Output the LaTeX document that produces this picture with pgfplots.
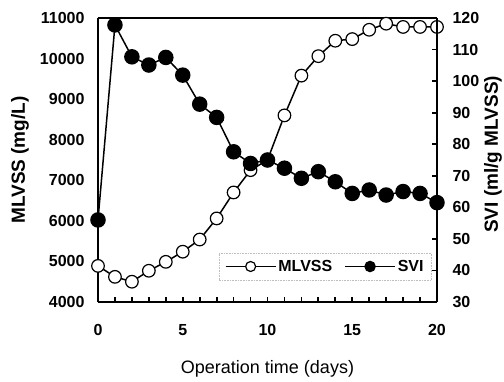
\documentclass[border=0pt]{standalone}
\usepackage{fontspec}
\setmainfont{Liberation Sans}
\usepackage{pgfplots}
\pgfplotsset{compat=1.18}
\pgfplotsset{
 common/.style={
  scale only axis, width=339pt, height=284pt, at={(98pt,79pt)}, anchor=south west,
  xmin=0, xmax=20, enlargelimits=false, clip=false,
  scaled ticks=false,
  tick align=inside,
  major tick length=5.5pt, minor tick length=5.5pt,
  tick style={black, line width=1.8pt},
  major tick style={black, line width=1.8pt},
  minor tick style={black, line width=1.8pt},
  ticklabel style={font=\bfseries\fontsize{16}{16}\selectfont},
  label style={font=\bfseries\fontsize{19}{19}\selectfont},
  axis line style={line width=2.2pt},
 },
 mlvss/.style={black, solid, line width=1.5pt, mark=*, mark size=6.3pt, mark options={fill=white, line width=1.2pt, solid}},
 svi/.style={black, solid, line width=1.5pt, mark=*, mark size=7pt, mark options={fill=black, solid}},
}
\begin{document}
\begin{tikzpicture}
\useasboundingbox (0,0) rectangle (504pt,381pt);
\begin{axis}[common,
 separate axis lines,
 ymin=4000, ymax=11000,
 xtick={0,5,10,15,20}, xticklabels={0,5,10,15,20},
 minor xtick={1,...,19},
 xtick pos=left,
 ytick={4000,5000,6000,7000,8000,9000,10000,11000},
 yticklabels={4000,5000,6000,7000,8000,9000,10000,11000},
 ytick pos=left, ytick style={draw=none},
 yticklabel style={xshift=-10pt},
 xticklabel style={yshift=-19pt},
 xlabel={Operation time (days)},
 xlabel style={font=\fontsize{18}{18}\selectfont, at={(axis description cs:0.5,-0.236)}, anchor=center},
 ylabel={MLVSS (mg/L)},
 ylabel style={at={(axis description cs:-0.23,0.5)}, anchor=center},
]
\addplot[mlvss] table[row sep=\\] {
x y\\
0 4890\\
1 4620\\
2 4500\\
3 4770\\
4 4990\\
5 5240\\
6 5540\\
7 6060\\
8 6700\\
9 7250\\
10 7500\\
11 8600\\
12 9580\\
13 10060\\
14 10440\\
15 10480\\
16 10710\\
17 10860\\
18 10780\\
19 10780\\
20 10780\\
};
\end{axis}
\begin{axis}[common,
 ymin=30, ymax=120,
 axis x line=none, axis y line*=right,
 ytick={30,40,50,60,70,80,90,100,110,120},
 yticklabels={30,40,50,60,70,80,90,100,110,120},
 yticklabel style={xshift=12pt},
 ylabel={SVI (ml/g MLVSS)},
 ylabel style={at={(axis description cs:1.165,0.52)}, anchor=center},
 legend image code/.code={\draw[mark repeat=2,mark phase=2,#1,mark size=5pt] plot coordinates {(0pt,0pt) (25pt,0pt) (50pt,0pt)};},
 legend style={at={(0.985,0.077)}, anchor=south east, draw=gray!50, densely dotted, line width=0.6pt, fill=white,
   font=\bfseries\fontsize{16}{16}\selectfont, legend columns=2, inner xsep=6pt, inner ysep=5pt,
   /tikz/every even column/.append style={column sep=10pt}},
 legend cell align=left,
]
\addlegendimage{mlvss}
\addlegendentry{MLVSS}
\addplot[svi] table[row sep=\\] {
x y\\
0 56\\
1 117.8\\
2 107.7\\
3 105.1\\
4 107.5\\
5 101.9\\
6 92.7\\
7 88.5\\
8 77.6\\
9 73.9\\
10 75.0\\
11 72.4\\
12 69.2\\
13 71.3\\
14 68.1\\
15 64.4\\
16 65.5\\
17 63.9\\
18 65.0\\
19 64.4\\
20 61.5\\
};
\addlegendentry{SVI}
\end{axis}
\end{tikzpicture}
\end{document}
